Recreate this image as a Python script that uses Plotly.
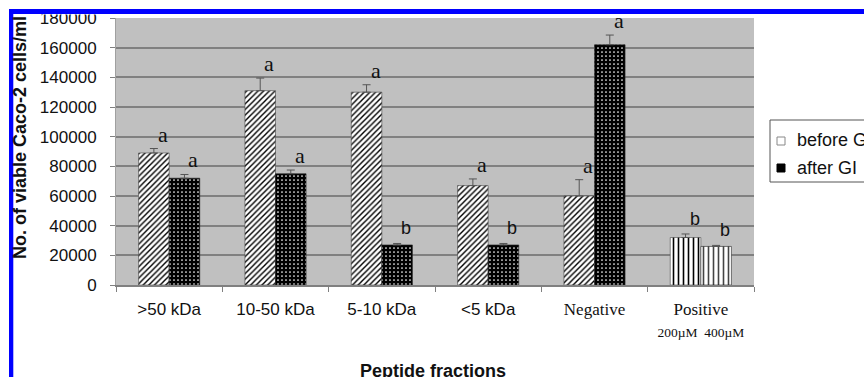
import html
import plotly.graph_objects as go

# ---------------- data ----------------
categories = [">50 kDa", "10-50 kDa", "5-10 kDa", "<5 kDa", "Negative", "Positive"]
before_gi = [89000, 131000, 130000, 67000, 60000, 32000]
before_err = [3000, 8500, 5000, 4500, 11000, 2400]
after_gi = [72000, 75000, 27000, 27000, 162000, 26000]
after_err = [2500, 2500, 1000, 1000, 6500, 700]
before_letters = ["a", "a", "a", "a", "a", "b"]
after_letters = ["a", "a", "b", "b", "a", "b"]
y_ticks = [0, 20000, 40000, 60000, 80000, 100000, 120000, 140000, 160000, 180000]
serif_categories = ["Negative", "Positive"]
positive_sub = "200µM&nbsp;&nbsp;400µM"

# ---------------- layout geometry ----------------
W, H = 864, 377
ML, MR, MT, MB = 116, 110, 18, 92
PW, PH = W - ML - MR, H - MT - MB


def px(x):
    return (x - ML) / PW


def py(y):
    return (H - MB - y) / PH


SANS = "Liberation Sans, Arial, sans-serif"
SERIF = "Liberation Serif, Times New Roman, serif"

n = len(categories)
is_pos = [c == "Positive" for c in categories]

before_shape = ["|" if p else "/" for p in is_pos]
before_size = [5 if p else 4 for p in is_pos]
before_sol = [0.32 if p else 0.35 for p in is_pos]
after_shape = ["|" if p else "." for p in is_pos]
after_fg = ["black" if p else "white" for p in is_pos]
after_bg = ["white" if p else "black" for p in is_pos]
after_size = [5 if p else 4 for p in is_pos]
after_sol = [0.32 if p else 0.15 for p in is_pos]

fig = go.Figure()
fig.add_trace(go.Bar(
    x=categories, y=before_gi, name="before GI",
    marker=dict(color="white", line=dict(color="#444", width=0.6),
                pattern=dict(shape=before_shape, fgcolor="black", fgopacity=1,
                             size=before_size, solidity=before_sol, fillmode="overlay")),
    error_y=dict(type="data", array=before_err, arrayminus=[0] * n, symmetric=False,
                 color="#555", thickness=1, width=4),
    showlegend=False,
))
fig.add_trace(go.Bar(
    x=categories, y=after_gi, name="after GI",
    marker=dict(color=after_bg, line=dict(color="#222", width=0.6),
                pattern=dict(shape=after_shape, fgcolor=after_fg, fgopacity=1,
                             size=after_size, solidity=after_sol, fillmode="overlay")),
    error_y=dict(type="data", array=after_err, arrayminus=[0] * n, symmetric=False,
                 color="#555", thickness=1, width=4),
    showlegend=False,
))

bargap = 0.425
half = (1 - bargap) / 4  # center offset of each bar in a group of two

annotations = []
for i in range(n):
    for val, err, let, off in ((before_gi[i], before_err[i], before_letters[i], -half),
                               (after_gi[i], after_err[i], after_letters[i], half)):
        is_a = let == "a"
        annotations.append(dict(
            x=i + off, y=val + err, xref="x", yref="y", text=let, showarrow=False,
            xanchor="center", yanchor="bottom", xshift=9, yshift=0 if is_a else 3,
            font=dict(family=SERIF if is_a else SANS, size=22 if is_a else 18, color="#111"),
        ))

# tick texts
ticktext = []
for c in categories:
    t = html.escape(c)
    if c in serif_categories:
        t = f"<span style='font-family:{SERIF}'>{t}</span>"
    if c == "Positive":
        t += f"<br><span style='font-family:{SERIF};font-size:13.5px'>{positive_sub}</span>"
    ticktext.append(t)

# axis titles (as annotations to control position)
annotations.append(dict(
    x=px(20), y=py(138), xref="paper", yref="paper", text="<b>No. of viable Caco-2 cells/ml</b>",
    textangle=-90, showarrow=False, xanchor="center", yanchor="middle",
    font=dict(family=SANS, size=18, color="#111"),
))
annotations.append(dict(
    x=px(433), y=py(371), xref="paper", yref="paper", text="<b>Peptide fractions</b>",
    showarrow=False, xanchor="center", yanchor="middle",
    font=dict(family=SANS, size=18, color="#111"),
))
# legend texts
annotations.append(dict(
    x=px(795), y=py(140), xref="paper", yref="paper", text="before GI",
    showarrow=False, xanchor="left", yanchor="middle", font=dict(family=SANS, size=18, color="#111"),
))
annotations.append(dict(
    x=px(795), y=py(168), xref="paper", yref="paper", text="after GI",
    showarrow=False, xanchor="left", yanchor="middle", font=dict(family=SANS, size=18, color="#111"),
))

shapes = [
    # legend box
    dict(type="rect", xref="paper", yref="paper", x0=px(770), x1=px(900), y0=py(182), y1=py(120),
         line=dict(color="#555", width=1), fillcolor="white", layer="above"),
    dict(type="rect", xref="paper", yref="paper", x0=px(777), x1=px(785), y0=py(145), y1=py(137),
         line=dict(color="#888", width=1), fillcolor="white", layer="above"),
    dict(type="rect", xref="paper", yref="paper", x0=px(777), x1=px(785), y0=py(172), y1=py(164),
         line=dict(color="black", width=1), fillcolor="black", layer="above"),
    # white crop above frame
    dict(type="rect", xref="paper", yref="paper", x0=px(0), x1=px(W), y0=py(14.5), y1=py(0),
         line=dict(width=0), fillcolor="white", layer="above"),
    # blue frame
    dict(type="rect", xref="paper", yref="paper", x0=px(9), x1=px(W + 5), y0=py(14), y1=py(9),
         line=dict(width=0), fillcolor="#0000ff", layer="above"),
    dict(type="rect", xref="paper", yref="paper", x0=px(9), x1=px(13.3), y0=py(H + 5), y1=py(9),
         line=dict(width=0), fillcolor="#0000ff", layer="above"),
]

fig.update_layout(
    width=W, height=H,
    margin=dict(l=ML, r=MR, t=MT, b=MB, autoexpand=False),
    paper_bgcolor="white", plot_bgcolor="#c0c0c0",
    barmode="group", bargap=bargap, bargroupgap=0,
    annotations=annotations, shapes=shapes, showlegend=False,
    font=dict(family=SANS, color="#111"),
)
fig.update_xaxes(
    tickmode="array", tickvals=categories, ticktext=ticktext,
    tickson="boundaries", ticks="outside", ticklen=5, tickcolor="#808080",
    showline=True, linecolor="#808080", linewidth=1.5, showgrid=False,
    tickfont=dict(family=SANS, size=17, color="#111"), ticklabelstandoff=8,
)
fig.update_yaxes(
    range=[0, 180000], tickvals=y_ticks, ticktext=[str(v) for v in y_ticks],
    ticks="outside", ticklen=5, tickcolor="#808080",
    showgrid=True, gridcolor="#808080", gridwidth=1.5, zeroline=False,
    showline=True, linecolor="#a0a0a0", linewidth=1,
    tickfont=dict(family=SANS, size=17, color="#111"), ticklabelstandoff=10,
)

fig.write_html(
    "out.html",
    config={"displayModeBar": False},
    post_script="document.body.style.margin='0';document.body.style.overflow='hidden';",
)
